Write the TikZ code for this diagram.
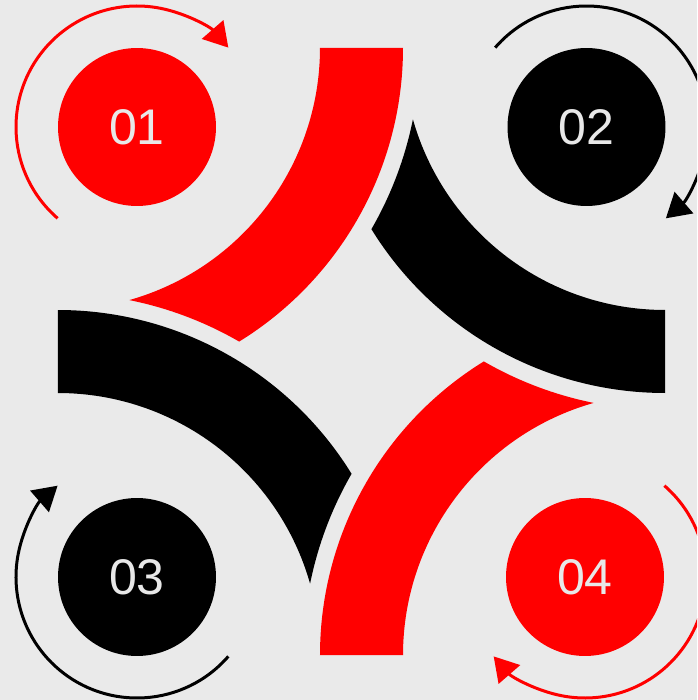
\documentclass[tikz,border=0pt]{standalone}
\usepackage{fontspec}
\setmainfont{Liberation Sans}
\usetikzlibrary{arrows.meta}
\definecolor{pinbg}{HTML}{EAEAEA}
\definecolor{pingray}{HTML}{E8E8E8}
\definecolor{pinred}{RGB}{255,0,0}

\begin{document}
\begin{tikzpicture}[
  x=0.02cm, y=0.02cm,
  badge/.style={circle, inner sep=0pt, minimum size=3.16cm, text=pingray,
    font=\fontsize{28.5}{30}\selectfont},
  turn/.style={line width=0.06cm, -{Triangle[length=0.48cm, width=0.56cm]}}
]
  % --- Canvas ---
  \fill[pinbg] (-361.5,-348.5) rectangle (335.5,351.5);
  \clip (-361.5,-348.5) rectangle (335.5,351.5);

  % --- Pinwheel bands ---
  \foreach \rot/\col in {0/pinred, -90/black, -180/pinred, -270/black}{
    \begin{scope}[rotate=\rot]
      \fill[\col] (-303.5,303.5) ++(345,0)
        arc[start angle=0, end angle=-58.32, radius=345]
        arc[start angle=59.97, end angle=78.64, radius=362]
        arc[start angle=-74.20, end angle=0, radius=262] -- cycle;
    \end{scope}
  }

  % --- Numbered badges ---
  \node[badge, fill=pinred] (c1) at (-224.5,224.5)  {01};
  \node[badge, fill=black]  (c2) at (225,224.5)     {02};
  \node[badge, fill=black]  (c3) at (-224.5,-225.5) {03};
  \node[badge, fill=pinred] (c4) at (223.5,-225.5)  {04};

  % --- Turning arrows ---
  \draw[turn, pinred] (c1.center) ++(229:121) arc[start angle=229, end angle=41, radius=121];
  \draw[turn, black]  (c2.center) ++(139:121) arc[start angle=139, end angle=-49, radius=121];
  \draw[turn, pinred] (c4.center) ++(49:121)  arc[start angle=49, end angle=-139, radius=121];
  \draw[turn, black]  (c3.center) ++(-41:121) arc[start angle=-41, end angle=-229, radius=121];
\end{tikzpicture}
\end{document}
